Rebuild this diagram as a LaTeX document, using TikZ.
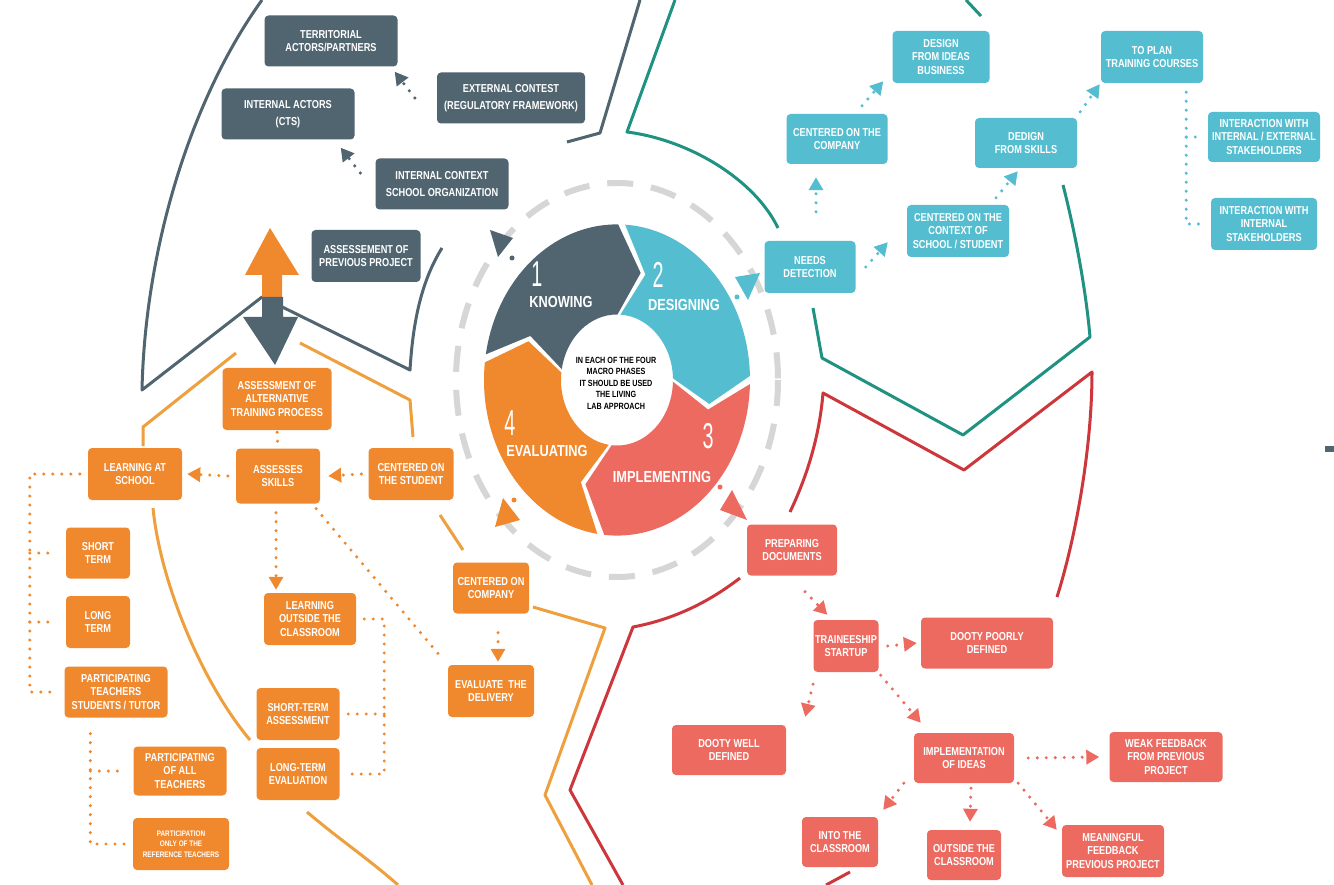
\documentclass[tikz,border=0pt]{standalone}
\usepackage{fontspec}
\setmainfont{Liberation Sans}
\newfontfamily\boxfont[FakeStretch=0.8]{Liberation Sans}
\newfontfamily\numfont[FakeStretch=0.55]{Liberation Sans}
\usepackage{tikz}
\usetikzlibrary{arrows.meta,
    positioning}

\definecolor{slate}{RGB}{81,101,112}
\definecolor{tealbox}{RGB}{84,190,208}
\definecolor{tealline}{RGB}{31,146,130}
\definecolor{redbox}{RGB}{236,106,96}
\definecolor{redline}{RGB}{205,55,60}
\definecolor{orangebox}{RGB}{240,136,46}
\definecolor{orangeline}{RGB}{238,160,62}
\definecolor{dashgray}{RGB}{214,214,214}

\tikzset{
  box/.style={rounded corners=4pt, text=white, align=center, inner sep=0pt,
    font=\boxfont\bfseries\fontsize{11.5}{13.5}\selectfont},
  sz/.style 2 args={minimum width=#1pt, minimum height=#2pt},
  sbox/.style={box, fill=slate},
  tbox/.style={box, fill=tealbox},
  obox/.style={box, fill=orangebox},
  rbox/.style={box, fill=redbox},
  dotline/.style={line width=3.4pt, line cap=round, dash pattern=on 0pt off 9pt},
  arr/.style={-{Triangle[length=13pt,width=14pt]}},
  rim/.style={line width=3pt, line join=round},
  wnum/.style={text=white, inner sep=0pt, font=\numfont\fontsize{36}{36}\selectfont},
  wlab/.style={text=white, inner sep=0pt, font=\boxfont\bfseries\fontsize{16}{16}\selectfont}
}

\begin{document}
\begin{tikzpicture}[x=1pt, y=-1pt]
  \fill[white] (0,0) rectangle (1334,885);
  \useasboundingbox (0,0) rectangle (1334,885);

  % outlines of the four areas
  \draw[rim, slate] (262,0) .. controls (190,100) and (145,250) .. (142,390) -- (262,297) -- (410,370)
    .. controls (413,320) and (422,280) .. (442,248);
  \draw[rim, slate] (640,0) -- (600,133) -- (567,142);
  \draw[rim, tealline] (675,0) -- (627,132) .. controls (690,140) and (755,180) .. (778,228);
  \draw[rim, tealline] (813,308) -- (822,358) -- (963,435) -- (1090,337)
    .. controls (1085,280) and (1072,220) .. (1063,185);
  \draw[rim, tealline] (966,0) -- (981,16);
  \draw[rim, redline] (790,512) .. controls (810,470) and (820,430) .. (823,393) -- (964,470) -- (1092,372)
    .. controls (1092,450) and (1075,540) .. (1057,597);
  \draw[rim, redline] (740,578) .. controls (705,605) and (670,620) .. (633,627) -- (570,790) -- (623,885);
  \draw[rim, redline] (826,885) -- (850,872);
  \draw[rim, orangeline] (236,353) -- (143,427) -- (143,446);
  \draw[rim, orangeline] (153,508) .. controls (160,580) and (200,680) .. (250,740);
  \draw[rim, orangeline] (307,812) .. controls (340,840) and (370,860) .. (398,885);
  \draw[rim, orangeline] (300,343) -- (410,400) -- (413,437);
  \draw[rim, orangeline] (440,515) -- (463,550);
  \draw[rim, orangeline] (533,607) -- (605,628) -- (545,795) -- (592,885);
  \fill[slate] (1325,446) rectangle (1334,452);

  % big arrows
  \fill[orangebox] (262,307) -- (262,275) -- (245,275) -- (270,228) -- (299,275) -- (282,275) -- (282,307) -- cycle;
  \fill[slate] (262,297) -- (262,317) -- (243,317) -- (275,365) -- (298,317) -- (283,317) -- (283,297) -- cycle;

  % wheel
  \draw[dashgray, line width=6pt, dash pattern=on 26pt off 18pt] (617,380) ellipse[x radius=161, y radius=197];
  \begin{scope}[shift={(617,380)}, yscale=-1.17]
    \foreach \a/\b/\c in {172/88/slate, 88/0/tealbox, 0/-97/redbox, -97/-188/orangebox}
      \fill[\c] ({\a-1.5}:133) arc[start angle={\a-1.5}, end angle={\b+1.5}, radius=133]
        -- ({\b-12.5}:94.5) -- ({\b+1.5}:56) arc[start angle={\b+1.5}, end angle={\a-1.5}, radius=56]
        -- ({\a-15.5}:94.5) -- cycle;
  \end{scope}
  \node[wnum] (n1) at (537,274) {1};
  \node[wlab] (l1) at (561,302) {KNOWING};
  \node[wnum] (n2) at (658,275) {2};
  \node[wlab] (l2) at (684,305) {DESIGNING};
  \node[wnum] (n3) at (708,436) {3};
  \node[wlab] (l3) at (662,477) {IMPLEMENTING};
  \node[wnum] (n4) at (510,423) {4};
  \node[wlab] (l4) at (547,451) {EVALUATING};
  \node[align=center, font=\boxfont\bfseries\fontsize{9}{11.5}\selectfont] (core) at (616,383)
    {IN EACH OF THE FOUR\\MACRO PHASES\\IT SHOULD BE USED\\THE LIVING\\LAB APPROACH};

  \fill[slate] (490,230) -- (513,238) -- (498,257) -- cycle;
  \fill[slate] (512,258) circle[radius=2.5pt];
  \fill[tealbox] (735,277) -- (760,273) -- (748,300) -- cycle;
  \fill[tealbox] (737,297) circle[radius=2.5pt];
  \fill[redbox] (732,490) -- (747,520) -- (720,510) -- cycle;
  \fill[redbox] (720,487) circle[radius=2.5pt];
  \fill[orangebox] (503,498) -- (520,520) -- (495,527) -- cycle;
  \fill[orangebox] (514,500) circle[radius=2.5pt];

  % knowing
  \node[sbox, sz={133}{51}] (terr) at (331,41) {TERRITORIAL\\ACTORS/PARTNERS};
  \node[sbox, sz={148}{51}] (extc) at (511,98) {EXTERNAL CONTEST\\[4pt](REGULATORY FRAMEWORK)};
  \node[sbox, sz={133}{51}] (iact) at (288,114) {INTERNAL ACTORS\\[4pt](CTS)};
  \node[sbox, sz={133}{51}] (ictx) at (442,184) {INTERNAL CONTEXT\\[4pt]SCHOOL ORGANIZATION};
  \node[sbox, sz={109}{52}] (aprev) at (366,256) {ASSESSEMENT OF\\PREVIOUS PROJECT};

  % designing
  \node[tbox, sz={97}{52}] (dideas) at (941,57) {DESIGN\\FROM IDEAS\\BUSINESS};
  \node[tbox, sz={102}{52}] (plan) at (1152,57) {TO PLAN\\TRAINING COURSES};
  \node[tbox, sz={101}{50}] (tcomp) at (837,139) {CENTERED ON THE\\COMPANY};
  \node[tbox, sz={102}{50}] (dskill) at (1026,143) {DEDIGN\\FROM SKILLS};
  \node[tbox, sz={102}{52}] (ctx) at (958,231) {CENTERED ON THE\\CONTEXT OF\\SCHOOL / STUDENT};
  \node[tbox, sz={91}{52}] (needs) at (810,267) {NEEDS\\DETECTION};
  \node[tbox, sz={112}{50}] (int1) at (1264,137) {INTERACTION WITH\\INTERNAL / EXTERNAL\\STAKEHOLDERS};
  \node[tbox, sz={106}{52}] (int2) at (1264,224) {INTERACTION WITH\\INTERNAL\\STAKEHOLDERS};

  % evaluating
  \node[obox, sz={109}{62}] (altp) at (277,399) {ASSESSMENT OF\\ALTERNATIVE\\TRAINING PROCESS};
  \node[obox, sz={94}{52}] (lsch) at (135,474) {LEARNING AT\\SCHOOL};
  \node[obox, sz={84}{55}] (asks) at (278,476) {ASSESSES\\SKILLS};
  \node[obox, sz={85}{52}] (stud) at (411,474) {CENTERED ON\\THE STUDENT};
  \node[obox, sz={64}{51}] (strm) at (98,553) {SHORT\\TERM};
  \node[obox, sz={64}{52}] (ltrm) at (98,622) {LONG\\TERM};
  \node[obox, sz={103}{51}] (ptea) at (116,692) {PARTICIPATING\\TEACHERS\\STUDENTS / TUTOR};
  \node[obox, sz={92}{52}] (lout) at (310,619) {LEARNING\\OUTSIDE THE\\CLASSROOM};
  \node[obox, sz={76}{51}] (ccomp) at (491,588) {CENTERED ON\\COMPANY};
  \node[obox, sz={86}{52}] (eval) at (491,691) {EVALUATE~ THE\\DELIVERY};
  \node[obox, sz={83}{52}] (sterm) at (298,714) {SHORT-TERM\\ASSESSMENT};
  \node[obox, sz={83}{52}] (lterm) at (298,774) {LONG-TERM\\EVALUATION};
  \node[obox, sz={93}{49}] (pall) at (180,771) {PARTICIPATING\\OF ALL\\TEACHERS};
  \node[obox, sz={96}{52}, font=\boxfont\bfseries\fontsize{8}{10.5}\selectfont] (ponly) at (181,844)
    {PARTICIPATION\\ONLY OF THE\\REFERENCE TEACHERS};

  % implementing
  \node[rbox, sz={90}{51}] (prep) at (792,550) {PREPARING\\DOCUMENTS};
  \node[rbox, sz={65}{52}] (trn) at (846,646) {TRAINEESHIP\\STARTUP};
  \node[rbox, sz={132}{51}] (poor) at (987,643) {DOOTY POORLY\\DEFINED};
  \node[rbox, sz={114}{50}] (well) at (729,750) {DOOTY WELL\\DEFINED};
  \node[rbox, sz={100}{50}] (impl) at (964,758) {IMPLEMENTATION\\OF IDEAS};
  \node[rbox, sz={113}{50}] (weak) at (1166,757) {WEAK FEEDBACK\\FROM PREVIOUS\\PROJECT};
  \node[rbox, sz={76}{50}] (into) at (840,842) {INTO THE\\CLASSROOM};
  \node[rbox, sz={74}{50}] (outs) at (964,855) {OUTSIDE THE\\CLASSROOM};
  \node[rbox, sz={102}{52}] (mean) at (1113,851) {MEANINGFUL\\FEEDBACK\\PREVIOUS PROJECT};

  % connectors
  \draw[slate, dotline, arr] ([xshift=-22pt]extc.west) -- ([xshift=-3pt,yshift=-5pt]terr.south east);
  \draw[slate, dotline, arr] ([xshift=-15pt,yshift=11pt]ictx.west) -- ([xshift=-14pt,yshift=-8pt]iact.south east);

  \draw[tealbox, dotline, arr] ([xshift=6pt,yshift=29pt]needs.north) -- ([xshift=-21pt,yshift=-13pt]tcomp.south);
  \draw[tealbox, dotline, arr] ([xshift=25pt,yshift=8pt]tcomp.north) -- ([xshift=-9pt,yshift=2pt]dideas.south west);
  \draw[tealbox, dotline, arr] ([xshift=10pt]needs.east) -- ([xshift=-19pt,yshift=15pt]ctx.south west);
  \draw[tealbox, dotline, arr] ([xshift=38pt,yshift=7pt]ctx.north) -- ([xshift=43pt,yshift=-3pt]dskill.south west);
  \draw[tealbox, dotline, arr] ([xshift=3pt,yshift=6pt]dskill.north east) -- ([xshift=-1pt,yshift=-1pt]plan.south west);
  \draw[tealbox, dotline] ([xshift=-17pt,yshift=-9pt]plan.south east) coordinate (pv) |- ([xshift=-10pt]int2.west);
  \draw[tealbox, dotline] (int1.west -| pv) -- ([xshift=-9pt]int1.west);

  \draw[orangebox, dotline, shorten <=2pt, shorten >=2pt] (altp.south) -- (asks.north);
  \draw[orangebox, dotline, arr] ([xshift=-7pt]stud.west) -- ([xshift=8pt]asks.east);
  \draw[orangebox, dotline, arr] ([xshift=-8pt]asks.west) -- ([xshift=5pt]lsch.east);
  \draw[orangebox, dotline, arr] ([xshift=-2pt,yshift=-9pt]asks.south) -- ([xshift=-34pt,yshift=3pt]lout.north);
  \draw[orangebox, dotline] ([xshift=-4pt,yshift=-5pt]asks.south east) -- ([xshift=-7pt,yshift=8pt]eval.north west);
  \draw[orangebox, dotline, arr] ([xshift=7pt,yshift=-19pt]ccomp.south) -- ([xshift=7pt,yshift=3pt]eval.north);
  \draw[orangebox, dotline] ([xshift=-8pt]lsch.west) -- ++(-50,0) coordinate (lv) |- ([xshift=-10pt]ptea.west);
  \draw[orangebox, dotline] (strm.west -| lv) -- ([xshift=-10pt]strm.west);
  \draw[orangebox, dotline] (ltrm.west -| lv) -- ([xshift=-10pt]ltrm.west);
  \draw[orangebox, dotline] ([xshift=26pt,yshift=-16pt]ptea.south west) coordinate (pv2) |- ([xshift=-8pt]ponly.west);
  \draw[orangebox, dotline] (pall.west -| pv2) -- ([xshift=-8pt]pall.west);
  \draw[orangebox, dotline] ([xshift=8pt]lout.east) -- ++(20,0) coordinate (ov) |- ([xshift=6pt]lterm.east);
  \draw[orangebox, dotline] (sterm.east -| ov) -- ([xshift=6pt]sterm.east);

  \draw[redbox, dotline, arr] ([xshift=13pt,yshift=-16pt]prep.south) -- ([xshift=14pt,yshift=5pt]trn.north west);
  \draw[redbox, dotline, arr] ([xshift=9pt]trn.east) -- ([xshift=-4pt]poor.west);
  \draw[redbox, dotline, arr] ([xshift=-33pt,yshift=-12pt]trn.south) -- ([xshift=19pt,yshift=8pt]well.north east);
  \draw[redbox, dotline, arr] ([xshift=2pt,yshift=-3pt]trn.south east) -- ([xshift=7pt,yshift=10pt]impl.north west);
  \draw[redbox, dotline, arr] ([xshift=14pt]impl.east) -- ([xshift=-10pt]weak.west);
  \draw[redbox, dotline, arr] ([xshift=-10pt]impl.south west) -- ([xshift=5pt,yshift=7pt]into.north east);
  \draw[redbox, dotline, arr] ([xshift=7pt,yshift=-5pt]impl.south) -- ([xshift=6pt,yshift=8pt]outs.north);
  \draw[redbox, dotline, arr] ([xshift=4pt]impl.south east) -- ([xshift=-5pt,yshift=-5pt]mean.north west);
\end{tikzpicture}
\end{document}
